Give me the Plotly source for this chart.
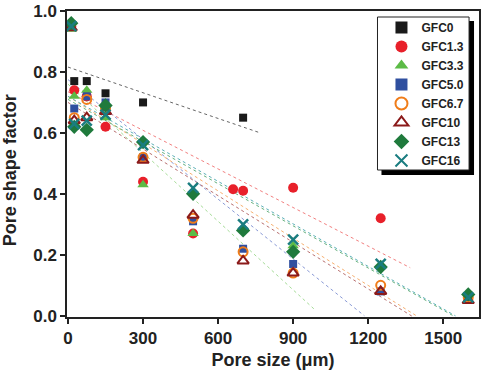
import plotly.graph_objects as go

# ---- data ----
names = ["GFC0", "GFC1.3", "GFC3.3", "GFC5.0", "GFC6.7", "GFC10", "GFC13", "GFC16"]

gfc0_x = [25, 75, 150, 300, 700]
gfc0_y = [0.77, 0.77, 0.73, 0.70, 0.65]

gfc13_1_x = [13, 25, 75, 150, 300, 500, 660, 700, 900, 1250]
gfc13_1_y = [0.95, 0.74, 0.72, 0.62, 0.44, 0.27, 0.415, 0.41, 0.42, 0.32]

gfc33_x = [13, 25, 75, 150, 300, 500, 900]
gfc33_y = [0.94, 0.72, 0.74, 0.65, 0.43, 0.27, 0.23]

gfc50_x = [25, 75, 150, 300, 500, 700, 900, 1250, 1600]
gfc50_y = [0.68, 0.72, 0.70, 0.52, 0.31, 0.22, 0.17, 0.08, 0.06]

gfc67_x = [25, 75, 150, 300, 500, 700, 900, 1250, 1600]
gfc67_y = [0.65, 0.71, 0.68, 0.52, 0.32, 0.21, 0.14, 0.10, 0.06]

gfc10_x = [13, 25, 75, 150, 300, 500, 700, 900, 1250, 1600]
gfc10_y = [0.945, 0.64, 0.65, 0.67, 0.51, 0.33, 0.18, 0.14, 0.08, 0.05]

gfc13_x = [13, 25, 75, 150, 300, 500, 700, 900, 1250, 1600]
gfc13_y = [0.96, 0.62, 0.61, 0.69, 0.57, 0.40, 0.28, 0.21, 0.16, 0.07]

gfc16_x = [13, 25, 75, 150, 300, 500, 700, 900, 1250, 1600]
gfc16_y = [0.95, 0.63, 0.64, 0.66, 0.56, 0.42, 0.30, 0.25, 0.17, 0.06]

# linear trend lines (intercept, slope, x end)
trend_intercept = [0.816, 0.735, 0.76, 0.775, 0.72, 0.70, 0.71, 0.72]
trend_slope = [-0.000281, -0.000422, -0.00075, -0.000654, -0.000517, -0.00051, -0.000461, -0.000465]
trend_xend = [768, 1368, 987, 1185, 1394, 1374, 1540, 1549]

xs = [gfc0_x, gfc13_1_x, gfc33_x, gfc50_x, gfc67_x, gfc10_x, gfc13_x, gfc16_x]
ys = [gfc0_y, gfc13_1_y, gfc33_y, gfc50_y, gfc67_y, gfc10_y, gfc13_y, gfc16_y]

colors = ["#1a1a1a", "#e8202a", "#5cbb46", "#2f4f9f", "#f07d1a", "#8b1a1a", "#1f7a3c", "#1a7d80"]
line_colors = ["#666666", "#f28080", "#a6dc98", "#8a9ad6", "#f7b070", "#b87070", "#66b07c", "#5cb0b8"]
symbols = ["square", "circle", "triangle-up", "square", "circle-open", "triangle-up-open", "diamond", "x-thin"]
sizes = [8, 10, 10, 8, 9, 10, 11, 10]

FONT = "Arial, Liberation Sans, sans-serif"

fig = go.Figure()

for i in range(len(names)):
    x0, x1 = 0, trend_xend[i]
    fig.add_trace(go.Scatter(
        x=[x0, x1],
        y=[trend_intercept[i] + trend_slope[i] * x0, trend_intercept[i] + trend_slope[i] * x1],
        mode="lines", line=dict(color=line_colors[i], width=1, dash="dot"),
        showlegend=False, hoverinfo="skip"))

for i in range(len(names)):
    mk = dict(symbol=symbols[i], size=sizes[i], color=colors[i])
    if symbols[i].endswith("open"):
        mk["line"] = dict(color=colors[i], width=2)
    elif symbols[i] == "x-thin":
        mk["line"] = dict(color=colors[i], width=2.5)
    else:
        mk["line"] = dict(width=0)
    fig.add_trace(go.Scatter(x=xs[i], y=ys[i], mode="markers", name=names[i], marker=mk))

# legend frame with drop shadow (plot area: x 67..481, y 11..317 px)
def px_x(p):
    return (p - 67) / 414

def px_y(p):
    return (317 - p) / 306

fig.add_shape(type="rect", xref="paper", yref="paper",
              x0=px_x(383), x1=px_x(476), y0=px_y(175), y1=px_y(21),
              fillcolor="black", line=dict(width=0), layer="below")
fig.add_shape(type="rect", xref="paper", yref="paper",
              x0=px_x(379), x1=px_x(471), y0=px_y(170), y1=px_y(17),
              fillcolor="white", line=dict(color="#222", width=1), layer="below")

# y-axis title as annotation for exact placement
fig.add_annotation(text="Pore shape factor", xref="paper", yref="paper",
                   x=px_x(10), y=px_y(170), xanchor="center", yanchor="middle",
                   textangle=-90, showarrow=False,
                   font=dict(family=FONT, size=18, color="#222", weight="bold"))

fig.update_layout(
    width=482, height=376,
    margin=dict(l=67, r=1, t=11, b=59),
    paper_bgcolor="white", plot_bgcolor="rgba(0,0,0,0)",
    font=dict(family=FONT, color="#222"),
    showlegend=True,
    legend=dict(x=px_x(383), y=px_y(13), xanchor="left", yanchor="top",
                bgcolor="rgba(0,0,0,0)", borderwidth=0,
                font=dict(family=FONT, size=12, color="#222", weight="bold"),
                itemsizing="constant", tracegroupgap=0),
    xaxis=dict(range=[-4, 1643], tickvals=[0, 300, 600, 900, 1200, 1500],
               showgrid=False, zeroline=False, showline=True, linecolor="#222", linewidth=1.5,
               mirror=True, ticks="outside", ticklen=5, tickwidth=1.5, tickcolor="#222",
               ticklabeloverflow="allow",
               tickfont=dict(family=FONT, size=17, color="#222", weight="bold"),
               title=dict(text="Pore size (μm)", standoff=6,
                          font=dict(family=FONT, size=18, color="#222", weight="bold"))),
    yaxis=dict(range=[-0.004, 1.0], tickvals=[0, 0.2, 0.4, 0.6, 0.8, 1.0], tickformat=".1f",
               showgrid=False, zeroline=False, showline=True, linecolor="#222", linewidth=1.5,
               mirror=True, ticks="outside", ticklen=5, tickwidth=1.5, tickcolor="#222",
               ticklabeloverflow="allow",
               tickfont=dict(family=FONT, size=17, color="#222", weight="bold")),
)

fig.write_html("out.html", config={"displayModeBar": False},
               post_script="document.body.style.margin='0';")
